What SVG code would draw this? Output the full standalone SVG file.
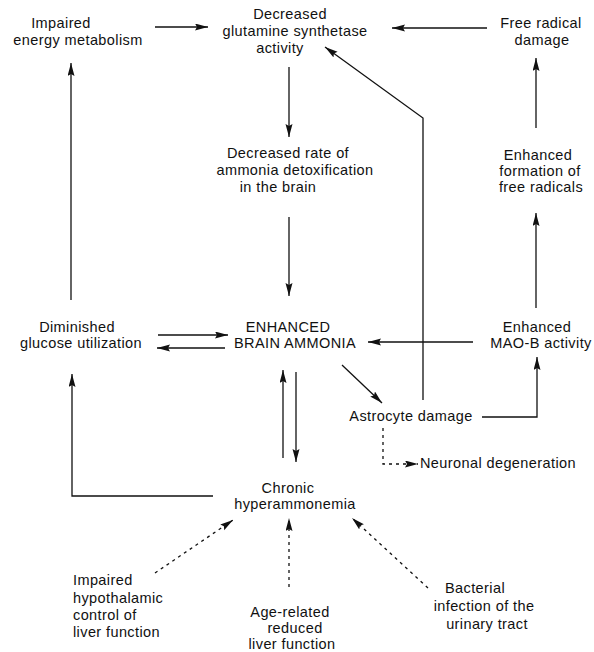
<svg xmlns="http://www.w3.org/2000/svg" width="594" height="652" viewBox="0 0 594 652">
<defs>
<marker id="ah" markerUnits="userSpaceOnUse" markerWidth="14" markerHeight="8" refX="13" refY="3.5" orient="auto">
<path d="M0,0 L13,3.5 L0,7 L2,3.5 Z" fill="#111"/>
</marker>
<style>
text{font-family:"Liberation Sans",Arial,sans-serif;font-size:14.5px;letter-spacing:0.4px;fill:#111;text-anchor:middle}
.l{text-anchor:start}
.c{fill:none;stroke:#111;stroke-width:1.3}
.d{stroke-dasharray:3,4}
.a{marker-end:url(#ah)}
</style>
</defs>
<rect width="594" height="652" fill="#fff"/>
<g id="connectors">
<path class="c a" d="M155,27 L208,27"/>
<path class="c a" d="M487,28 L392,28"/>
<path class="c a" d="M289,67 L289,137"/>
<path class="c a" d="M289,217 L289,296"/>
<path class="c a" d="M71,300 L71,63"/>
<path class="c a" d="M158,335 L228,335"/>
<path class="c a" d="M225,348 L157,348"/>
<path class="c a" d="M473,342 L368,342"/>
<path class="c a" d="M536,308 L536,213"/>
<path class="c a" d="M536,128 L536,58"/>
<path class="c a" d="M423,400 L423,118 L325,47"/>
<path class="c a" d="M342,365 L382,403"/>
<path class="c a" d="M482,417 L537,417 L537,357"/>
<path class="c d a" d="M383,428 L383,464 L418,464"/>
<path class="c a" d="M283,458 L283,370"/>
<path class="c a" d="M296,372 L296,462"/>
<path class="c a" d="M213,496 L72,496 L72,374"/>
<path class="c d a" d="M155,573 L233,520"/>
<path class="c d a" d="M289,587 L289,518"/>
<path class="c d a" d="M428,588 L352,518"/>
</g>
<g id="impaired-energy"><text x="61" y="28">Impaired</text><text x="78" y="45">energy metabolism</text></g>
<g id="decreased-gs"><text x="290" y="19">Decreased</text><text x="295" y="36">glutamine synthetase</text><text x="280" y="53">activity</text></g>
<g id="free-radical-damage"><text x="541" y="28">Free radical</text><text x="542" y="45">damage</text></g>
<g id="decreased-rate"><text x="288" y="158">Decreased rate of</text><text x="295" y="175">ammonia detoxification</text><text x="278" y="192">in the brain</text></g>
<g id="enhanced-formation"><text x="538" y="160">Enhanced</text><text x="540" y="176">formation of</text><text x="541" y="192">free radicals</text></g>
<g id="diminished-glucose"><text x="77" y="332">Diminished</text><text x="81" y="348">glucose utilization</text></g>
<g id="enhanced-brain-ammonia"><text x="288" y="332">ENHANCED</text><text x="295" y="348">BRAIN AMMONIA</text></g>
<g id="enhanced-maob"><text x="537" y="332">Enhanced</text><text x="541" y="348">MAO-B activity</text></g>
<g id="astrocyte-damage"><text x="411" y="421">Astrocyte damage</text></g>
<g id="neuronal-degeneration"><text class="l" x="420" y="468">Neuronal degeneration</text></g>
<g id="chronic-hyperammonemia"><text x="288" y="493">Chronic</text><text x="295" y="509">hyperammonemia</text></g>
<g id="impaired-hypothalamic"><text class="l" x="73" y="585">Impaired</text><text class="l" x="73" y="603">hypothalamic</text><text class="l" x="73" y="620">control of</text><text class="l" x="73" y="637">liver function</text></g>
<g id="age-related"><text x="290" y="617">Age-related</text><text x="295" y="633">reduced</text><text x="292" y="649">liver function</text></g>
<g id="bacterial-infection"><text x="475" y="593">Bacterial</text><text x="484" y="611">infection of the</text><text x="487" y="629">urinary tract</text></g>
</svg>
